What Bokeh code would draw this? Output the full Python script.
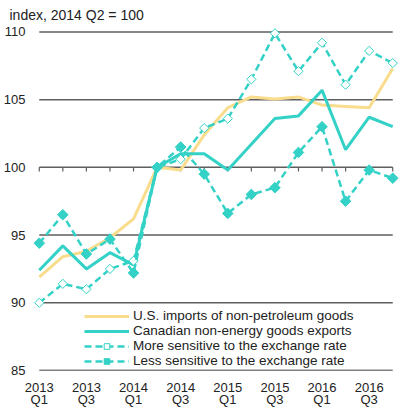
import numpy as np
from bokeh.plotting import figure
from bokeh.models import Legend, LegendItem, FixedTicker, Range1d
from bokeh.embed import file_html
from bokeh.resources import INLINE

quarters = ["2013 Q1", "2013 Q2", "2013 Q3", "2013 Q4",
            "2014 Q1", "2014 Q2", "2014 Q3", "2014 Q4",
            "2015 Q1", "2015 Q2", "2015 Q3", "2015 Q4",
            "2016 Q1", "2016 Q2", "2016 Q3", "2016 Q4"]
us_imports = [91.9, 93.4, 93.8, 94.8, 96.2, 100.0, 99.8, 102.4,
              104.4, 105.2, 105.05, 105.2, 104.6, 104.5, 104.4, 107.3]
canadian_exports = [92.4, 94.2, 92.5, 93.7, 92.8, 100.0, 101.0, 101.0,
                    99.8, 101.7, 103.6, 103.8, 105.7, 101.3, 103.7, 103.0]
more_sensitive = [90.0, 91.4, 91.0, 92.5, 93.1, 100.0, 100.6, 102.9,
                  103.6, 106.5, 109.9, 107.1, 109.2, 106.1, 108.6, 107.7]
less_sensitive = [94.4, 96.5, 93.6, 94.7, 92.2, 100.0, 101.5, 99.5,
                  96.6, 98.0, 98.5, 101.1, 103.0, 97.5, 99.8, 99.2]
y_ticks = [85, 90, 95, 100, 105, 110]
series_names = ["U.S. imports of non-petroleum goods",
                "Canadian non-energy goods exports",
                "More sensitive to the exchange rate",
                "Less sensitive to the exchange rate"]
title_text = "index, 2014 Q2 = 100"

x = list(range(len(quarters)))
x_label_idx = x[::2]

FONT = "Liberation Sans"
YELLOW = "#F9DC8C"
TEAL = "#33D1C6"
GRID = "#5e5e5e"

p = figure(frame_width=365, frame_height=344,
           x_range=Range1d(-0.245, len(quarters) - 1 + 0.245),
           y_range=Range1d(85, 110.4),
           output_backend="svg", toolbar_location=None,
           min_border_left=24, min_border_right=12,
           min_border_top=25, min_border_bottom=39)
p.outline_line_color = None
p.xgrid.visible = False
p.ygrid.visible = False

p.title.text = title_text
p.title.text_font = FONT
p.title.text_font_size = "14px"
p.title.text_font_style = "normal"
p.title.text_color = "#222222"
p.title.align = "left"
p.title.offset = -24
p.title.standoff = 8

# y axis
p.yaxis.ticker = FixedTicker(ticks=y_ticks)
p.yaxis.axis_line_color = None
p.yaxis.major_tick_line_color = None
p.yaxis.minor_tick_line_color = None
p.yaxis.major_label_standoff = 2
p.yaxis.major_label_text_font = FONT
p.yaxis.major_label_text_font_size = "13px"
p.yaxis.major_label_text_color = "#222222"

# x axis
p.xaxis.ticker = FixedTicker(ticks=x_label_idx)
p.xaxis.major_label_overrides = {i: quarters[i].replace(" ", "\n") for i in x_label_idx}
p.xaxis.axis_line_color = None
p.xaxis.major_tick_line_color = None
p.xaxis.minor_tick_line_color = None
p.xaxis.major_label_standoff = 3
p.xaxis.major_label_text_font = FONT
p.xaxis.major_label_text_font_size = "13px"
p.xaxis.major_label_text_line_height = 0.8
p.xaxis.major_label_text_color = "#222222"

# horizontal grid lines spanning the data extent
grid_y = y_ticks[1:]
p.segment(x0=[x[0]] * len(grid_y), x1=[x[-1]] * len(grid_y), y0=grid_y, y1=grid_y,
          line_color=GRID, line_width=1.5)
p.segment(x0=[x[0]], x1=[x[-1]], y0=[y_ticks[0]], y1=[y_ticks[0]],
          line_color="#000000", line_width=1.5)
# small quarter ticks on the 100 line
p.segment(x0=x, x1=x, y0=[100] * len(x), y1=[99.7] * len(x),
          line_color=GRID, line_width=1.2)

r_us = p.line(x, us_imports, line_color=YELLOW, line_width=3)
r_can = p.line(x, canadian_exports, line_color=TEAL, line_width=3)
r_more_l = p.line(x, more_sensitive, line_color=TEAL, line_width=2.5, line_dash="7 4")
r_more_m = p.scatter(x, more_sensitive, marker="square", angle=np.pi / 4, size=6.5,
                     fill_color="white", line_color=TEAL, line_width=1)
r_less_l = p.line(x, less_sensitive, line_color=TEAL, line_width=2.5, line_dash="7 4")
r_less_m = p.scatter(x, less_sensitive, marker="square", angle=np.pi / 4, size=7.5,
                     fill_color=TEAL, line_color=TEAL, line_width=1)

legend = Legend(items=[
    LegendItem(label=series_names[0], renderers=[r_us]),
    LegendItem(label=series_names[1], renderers=[r_can]),
    LegendItem(label=series_names[2], renderers=[r_more_l, r_more_m]),
    LegendItem(label=series_names[3], renderers=[r_less_l, r_less_m]),
], location=(51, 2))
legend.glyph_width = 45
legend.glyph_height = 14
legend.label_height = 14
legend.spacing = 0
legend.padding = 0
legend.margin = 0
legend.label_standoff = 4
legend.label_text_font = FONT
legend.label_text_font_size = "13.5px"
legend.label_text_line_height = 0.9
legend.label_text_color = "#222222"
legend.background_fill_alpha = 0
legend.border_line_color = None
p.add_layout(legend, "center")

open("out.html", "w").write(file_html(p, INLINE))
